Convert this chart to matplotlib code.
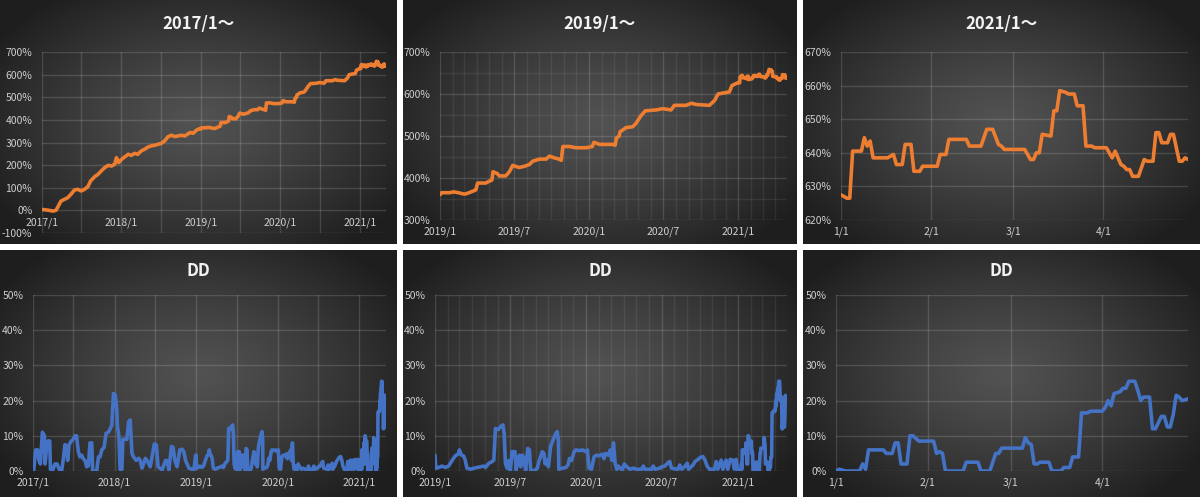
import matplotlib

matplotlib.use("Agg")

import matplotlib.pyplot as plt
import matplotlib.dates as mdates
import matplotlib.ticker as mticker
import numpy as np
import pandas as pd

plt.rcParams["font.family"] = ["Noto Sans CJK JP", "DejaVu Sans"]

ORANGE = "#ED7D31"
BLUE = "#4472C4"
TICK = "#cfcfcf"

# cumulative return (%)
ret_2017 = [
    ("2017-01-02", 4), ("2017-01-28", 1), ("2017-02-20", -3), ("2017-03-06", 0),
    ("2017-03-17", 19), ("2017-03-29", 41), ("2017-04-14", 49), ("2017-04-29", 56),
    ("2017-05-14", 71), ("2017-05-30", 90), ("2017-06-14", 93), ("2017-06-30", 86),
    ("2017-07-15", 93), ("2017-07-31", 105), ("2017-08-12", 130), ("2017-08-31", 149),
    ("2017-09-15", 159), ("2017-09-30", 174), ("2017-10-16", 189), ("2017-11-01", 199),
    ("2017-11-16", 196), ("2017-12-01", 204), ("2017-12-09", 233), ("2017-12-19", 211),
    ("2018-01-02", 226), ("2018-01-17", 237), ("2018-02-01", 248), ("2018-02-16", 243),
    ("2018-03-02", 252), ("2018-03-17", 248), ("2018-04-02", 263), ("2018-04-17", 270),
    ("2018-05-03", 280), ("2018-05-18", 285), ("2018-06-03", 288), ("2018-06-18", 292),
    ("2018-07-03", 296), ("2018-07-18", 307), ("2018-08-03", 326), ("2018-08-19", 332),
    ("2018-09-03", 326), ("2018-09-19", 329), ("2018-10-04", 332), ("2018-10-19", 329),
    ("2018-11-12", 344), ("2018-11-27", 341), ("2018-12-12", 355), ("2018-12-28", 362),
]
ret_2019 = [
    ("2019-01-01", 360), ("2019-01-05", 365), ("2019-01-25", 365), ("2019-02-03", 367),
    ("2019-02-15", 365), ("2019-02-27", 362), ("2019-03-05", 362), ("2019-03-18", 367),
    ("2019-03-26", 370), ("2019-03-30", 372), ("2019-04-03", 388), ("2019-04-23", 388),
    ("2019-05-01", 392), ("2019-05-08", 395), ("2019-05-11", 415), ("2019-05-22", 410),
    ("2019-05-26", 405), ("2019-06-11", 405), ("2019-06-20", 415), ("2019-06-28", 430),
    ("2019-07-14", 425), ("2019-07-27", 428), ("2019-08-08", 432), ("2019-08-16", 440),
    ("2019-09-02", 445), ("2019-09-18", 445), ("2019-09-26", 452), ("2019-10-08", 448),
    ("2019-10-19", 445), ("2019-10-25", 442), ("2019-10-29", 475), ("2019-11-14", 475),
    ("2019-11-30", 472), ("2019-12-25", 472), ("2020-01-09", 475), ("2020-01-13", 485),
    ("2020-01-27", 480), ("2020-02-28", 480), ("2020-03-05", 478), ("2020-03-08", 495),
    ("2020-03-15", 500), ("2020-03-17", 510), ("2020-04-01", 520), ("2020-04-17", 522),
    ("2020-04-25", 530), ("2020-05-07", 548), ("2020-05-18", 560), ("2020-06-13", 562),
    ("2020-06-30", 565), ("2020-07-20", 562), ("2020-07-28", 573), ("2020-08-26", 573),
    ("2020-09-08", 578), ("2020-09-20", 575), ("2020-10-22", 573), ("2020-11-04", 585),
    ("2020-11-12", 600), ("2020-11-28", 603), ("2020-12-10", 605), ("2020-12-16", 620),
    ("2020-12-27", 625),
]
ret_2021 = [
    ("2021-01-01", 627.5), ("2021-01-02", 627), ("2021-01-03", 626.5), ("2021-01-04", 626.5),
    ("2021-01-05", 640.5), ("2021-01-08", 640.5), ("2021-01-09", 644.5), ("2021-01-10", 642),
    ("2021-01-11", 643.5), ("2021-01-12", 638.5), ("2021-01-17", 638.5), ("2021-01-19", 639.5),
    ("2021-01-20", 636.5), ("2021-01-22", 636.5), ("2021-01-23", 642.5), ("2021-01-25", 642.5),
    ("2021-01-26", 634.5), ("2021-01-28", 634.5), ("2021-01-29", 636), ("2021-02-03", 636),
    ("2021-02-04", 639.5), ("2021-02-06", 639.5), ("2021-02-07", 644), ("2021-02-13", 644),
    ("2021-02-14", 642), ("2021-02-18", 642), ("2021-02-20", 647), ("2021-02-22", 647),
    ("2021-02-24", 642.5), ("2021-02-25", 642), ("2021-02-26", 641), ("2021-03-05", 641),
    ("2021-03-07", 638), ("2021-03-08", 638), ("2021-03-09", 640), ("2021-03-10", 640),
    ("2021-03-11", 645.5), ("2021-03-14", 645), ("2021-03-15", 652.5), ("2021-03-16", 652.5),
    ("2021-03-17", 658.5), ("2021-03-19", 658), ("2021-03-20", 657.5), ("2021-03-22", 657.5),
    ("2021-03-23", 654), ("2021-03-25", 654), ("2021-03-26", 642), ("2021-03-28", 642),
    ("2021-03-29", 641.5), ("2021-04-02", 641.5), ("2021-04-03", 640), ("2021-04-04", 638.5),
    ("2021-04-05", 640.5), ("2021-04-07", 636.5), ("2021-04-08", 636), ("2021-04-09", 635),
    ("2021-04-10", 635), ("2021-04-11", 633), ("2021-04-13", 633), ("2021-04-15", 638),
    ("2021-04-16", 637.5), ("2021-04-18", 637.5), ("2021-04-19", 646), ("2021-04-20", 646),
    ("2021-04-21", 643), ("2021-04-23", 643), ("2021-04-24", 645.5), ("2021-04-25", 645.5),
    ("2021-04-27", 637.5), ("2021-04-28", 637.5), ("2021-04-29", 638.5), ("2021-04-30", 638),
]

# drawdown (%)
dd_2017 = [
    ("2017-01-04", 0), ("2017-01-13", 6), ("2017-01-22", 6), ("2017-01-28", 3),
    ("2017-02-03", 2), ("2017-02-12", 11), ("2017-02-21", 10), ("2017-02-24", 2),
    ("2017-03-05", 8), ("2017-03-11", 8.6), ("2017-03-17", 8.5), ("2017-03-20", 0.5),
    ("2017-03-29", 0), ("2017-04-09", 2), ("2017-04-19", 2), ("2017-04-28", 0.5),
    ("2017-05-09", 0), ("2017-05-16", 3), ("2017-05-24", 7.5), ("2017-05-31", 7),
    ("2017-06-05", 3), ("2017-06-12", 7.5), ("2017-06-21", 8.5), ("2017-06-30", 9),
    ("2017-07-08", 10), ("2017-07-15", 10), ("2017-07-23", 5.5), ("2017-07-30", 4),
    ("2017-08-07", 4.5), ("2017-08-14", 3.5), ("2017-08-22", 3), ("2017-08-29", 1.2),
    ("2017-09-06", 1.5), ("2017-09-13", 8), ("2017-09-21", 8), ("2017-09-25", 0),
    ("2017-10-13", 0), ("2017-10-21", 4), ("2017-10-28", 4), ("2017-11-05", 6),
    ("2017-11-15", 6.7), ("2017-11-24", 10.7), ("2017-12-05", 11), ("2017-12-20", 13),
    ("2017-12-27", 22), ("2018-01-04", 21.6), ("2018-01-11", 17.3), ("2018-01-14", 12.6),
    ("2018-01-20", 10.2), ("2018-01-26", 0.5), ("2018-02-03", 0.5), ("2018-02-07", 9),
    ("2018-02-25", 9), ("2018-03-05", 14), ("2018-03-12", 14.5), ("2018-03-20", 5),
    ("2018-03-27", 4), ("2018-04-08", 3), ("2018-04-19", 3.6), ("2018-04-26", 3),
    ("2018-05-04", 0.8), ("2018-05-19", 3.6), ("2018-05-26", 3), ("2018-06-10", 1.2),
    ("2018-06-28", 7.7), ("2018-07-07", 7.4), ("2018-07-15", 1.2), ("2018-08-02", 0.3),
    ("2018-08-17", 3), ("2018-08-24", 3), ("2018-09-01", 0.3), ("2018-09-13", 7),
    ("2018-09-20", 6.7), ("2018-09-28", 3), ("2018-10-08", 1.2), ("2018-10-20", 6),
    ("2018-10-31", 6.2), ("2018-11-07", 5.5), ("2018-11-15", 3), ("2018-11-30", 0.8),
    ("2018-12-22", 0.3), ("2018-12-30", 4.5),
]
dd_2019 = [
    ("2019-01-01", 4.5), ("2019-01-03", 0.8), ("2019-01-10", 1), ("2019-01-18", 1.4),
    ("2019-01-26", 1), ("2019-02-03", 1.4), ("2019-02-07", 2.2), ("2019-02-13", 3.3),
    ("2019-02-19", 4.3), ("2019-02-26", 4.8), ("2019-03-01", 6), ("2019-03-06", 4.5),
    ("2019-03-11", 4.3), ("2019-03-15", 3.1), ("2019-03-19", 0.8), ("2019-03-28", 0.5),
    ("2019-04-05", 0.8), ("2019-04-13", 1), ("2019-04-21", 1.2), ("2019-04-29", 1.4),
    ("2019-05-03", 1), ("2019-05-11", 2.2), ("2019-05-19", 2.7), ("2019-05-23", 3.1),
    ("2019-05-27", 12.1), ("2019-06-03", 11.8), ("2019-06-08", 12.6), ("2019-06-14", 13.1),
    ("2019-06-17", 10.7), ("2019-06-20", 2.2), ("2019-06-24", 0.8), ("2019-06-28", 3),
    ("2019-07-02", 0), ("2019-07-06", 5.5), ("2019-07-13", 5.5), ("2019-07-16", 0.3),
    ("2019-07-21", 3.6), ("2019-07-24", 4.5), ("2019-07-27", 1.2), ("2019-07-31", 4.5),
    ("2019-08-04", 3.6), ("2019-08-08", 0.3), ("2019-08-13", 6.4), ("2019-08-17", 6),
    ("2019-08-20", 0.3), ("2019-08-28", 0), ("2019-09-05", 0.8), ("2019-09-09", 2.7),
    ("2019-09-17", 5.5), ("2019-09-21", 5), ("2019-09-24", 2), ("2019-09-27", 3.1),
    ("2019-10-02", 1.2), ("2019-10-07", 6.9), ("2019-10-13", 8.8), ("2019-10-18", 10.2),
    ("2019-10-23", 11.2), ("2019-10-26", 8.8), ("2019-10-27", 0.5), ("2019-11-04", 0.8),
    ("2019-11-13", 1), ("2019-11-18", 1.7), ("2019-11-22", 3.6), ("2019-11-27", 3),
    ("2019-12-03", 5.5), ("2019-12-07", 6), ("2019-12-15", 5.8), ("2019-12-23", 6),
    ("2019-12-31", 5.5), ("2020-01-04", 6), ("2020-01-08", 0.8), ("2020-01-14", 0.5),
    ("2020-01-20", 4), ("2020-01-26", 4.5), ("2020-02-01", 4.3), ("2020-02-09", 4.8),
    ("2020-02-13", 3.5), ("2020-02-17", 5), ("2020-02-24", 4.5), ("2020-02-28", 6),
    ("2020-03-03", 3), ("2020-03-07", 8), ("2020-03-11", 2.2), ("2020-03-15", 0.5),
    ("2020-03-19", 1.4), ("2020-03-23", 0.8), ("2020-03-28", 0.3), ("2020-04-02", 2),
    ("2020-04-08", 1.2), ("2020-04-16", 0.5), ("2020-04-24", 0.8), ("2020-05-02", 0.5),
    ("2020-05-14", 0.5), ("2020-05-18", 1.4), ("2020-05-22", 0.5), ("2020-06-07", 0.5),
    ("2020-06-11", 1.4), ("2020-06-15", 0.5), ("2020-06-27", 0.8), ("2020-07-01", 1.2),
    ("2020-07-09", 1.4), ("2020-07-17", 2.4), ("2020-07-21", 2.7), ("2020-07-25", 0.8),
    ("2020-08-10", 0.5), ("2020-08-14", 1.7), ("2020-08-19", 0.5), ("2020-08-27", 1.4),
    ("2020-09-01", 2.2), ("2020-09-04", 0.5), ("2020-09-15", 1.7), ("2020-09-20", 2.7),
    ("2020-09-27", 3.3), ("2020-10-03", 3.9), ("2020-10-09", 4.1), ("2020-10-14", 3.1),
    ("2020-10-19", 1.4), ("2020-10-25", 0.5), ("2020-11-06", 0.5), ("2020-11-10", 2.7),
    ("2020-11-14", 0.5), ("2020-11-22", 3.1), ("2020-11-26", 0.5), ("2020-12-04", 3.1),
    ("2020-12-08", 0.5), ("2020-12-14", 3.3), ("2020-12-20", 3.1), ("2020-12-24", 0.5),
    ("2020-12-28", 3.3),
]
dd_2021 = [
    ("2021-01-01", 0), ("2021-01-02", 0.5), ("2021-01-03", 0.3), ("2021-01-04", 0),
    ("2021-01-09", 0), ("2021-01-10", 2), ("2021-01-11", 0.5), ("2021-01-12", 6),
    ("2021-01-17", 6), ("2021-01-18", 5), ("2021-01-20", 5), ("2021-01-21", 8),
    ("2021-01-22", 8), ("2021-01-23", 2), ("2021-01-25", 2), ("2021-01-26", 10),
    ("2021-01-27", 10), ("2021-01-29", 8.5), ("2021-02-03", 8.5), ("2021-02-04", 5),
    ("2021-02-05", 5.5), ("2021-02-06", 5), ("2021-02-07", 0), ("2021-02-13", 0),
    ("2021-02-14", 2.5), ("2021-02-18", 2.5), ("2021-02-19", 0), ("2021-02-22", 0),
    ("2021-02-24", 5), ("2021-02-25", 5), ("2021-02-26", 6.5), ("2021-03-05", 6.5),
    ("2021-03-06", 9.5), ("2021-03-07", 8), ("2021-03-08", 7.5), ("2021-03-09", 2),
    ("2021-03-10", 2), ("2021-03-11", 2.5), ("2021-03-14", 2.5), ("2021-03-15", 0),
    ("2021-03-18", 0), ("2021-03-19", 1), ("2021-03-21", 1), ("2021-03-22", 4),
    ("2021-03-24", 4), ("2021-03-25", 16.5), ("2021-03-27", 16.5), ("2021-03-28", 17),
    ("2021-04-01", 17), ("2021-04-02", 18), ("2021-04-03", 20), ("2021-04-04", 18.5),
    ("2021-04-05", 22), ("2021-04-07", 22.5), ("2021-04-08", 23.5), ("2021-04-09", 23.5),
    ("2021-04-10", 25.5), ("2021-04-12", 25.5), ("2021-04-13", 23), ("2021-04-14", 20),
    ("2021-04-15", 21), ("2021-04-17", 21), ("2021-04-18", 12), ("2021-04-19", 12),
    ("2021-04-21", 15.5), ("2021-04-22", 15.5), ("2021-04-23", 12.5), ("2021-04-24", 12.5),
    ("2021-04-25", 16), ("2021-04-26", 21.5), ("2021-04-27", 21), ("2021-04-28", 20),
    ("2021-04-30", 20.5),
]

TITLES = ["2017/1～", "2019/1～", "2021/1～"]
DD_TITLE = "DD"
STARTS = ["2017-01-01", "2019-01-01", "2021-01-01"]
END = "2021-04-30"


def to_series(*parts):
    rows = [row for part in parts for row in part]
    index = pd.to_datetime([d for d, _ in rows])
    return pd.Series([v for _, v in rows], index=index)


ret = to_series(ret_2017, ret_2019, ret_2021)
dd = to_series(dd_2017, dd_2019, dd_2021)

W, H = 1200, 497
fig = plt.figure(figsize=(W / 100, H / 100), dpi=100, facecolor="white")


def rect(x0, y0, x1, y1):
    return [x0 / W, 1 - y1 / H, (x1 - x0) / W, (y1 - y0) / H]


PANELS = [
    (0, 0, 397, 244), (403, 0, 797, 244), (803, 0, 1200, 244),
    (0, 250, 397, 497), (403, 250, 797, 497), (803, 250, 1200, 497),
]
PLOTS = [
    (42, 52, 386, 233), (440, 52, 787, 220), (841, 52, 1188, 220),
    (33, 295, 386, 471), (435, 295, 787, 471), (836, 295, 1188, 471),
]

gy, gx = np.mgrid[0:1:200j, 0:1:300j]
r = np.sqrt(((gx - 0.5) / 0.6) ** 2 + ((gy - 0.5) / 0.65) ** 2)
shade = (82 - 52 * np.clip(r, 0, 1) ** 1.2) / 255.0
background = np.dstack([shade, shade, shade])


def year_month(x, pos=None):
    d = mdates.num2date(x)
    return "{}/{}".format(d.year, d.month)


def month_day(x, pos=None):
    d = mdates.num2date(x)
    return "{}/{}".format(d.month, d.day)


def percent(x, pos=None):
    return "{:.0f}%".format(x)


for i in range(6):
    bg = fig.add_axes(rect(*PANELS[i]))
    bg.imshow(background, aspect="auto", extent=[0, 1, 0, 1], interpolation="bilinear")
    bg.axis("off")

    col = i % 3
    top = i < 3
    ax = fig.add_axes(rect(*PLOTS[i]))
    ax.set_facecolor("none")
    for spine in ax.spines.values():
        spine.set_visible(False)

    series = ret if top else dd
    part = series[series.index >= pd.Timestamp(STARTS[col])]
    ax.plot(part.index, part.values, color=ORANGE if top else BLUE, lw=2.6,
            solid_joinstyle="round", solid_capstyle="round", zorder=3)
    ax.set_xlim(pd.Timestamp(STARTS[col]), pd.Timestamp(END))

    if col == 0:
        ax.xaxis.set_major_locator(mdates.YearLocator())
        ax.xaxis.set_minor_locator(mdates.MonthLocator(bymonth=[7]))
        ax.xaxis.set_major_formatter(mticker.FuncFormatter(year_month))
    elif col == 1:
        ax.xaxis.set_major_locator(mdates.MonthLocator(bymonth=[1, 7]))
        ax.xaxis.set_minor_locator(mdates.MonthLocator())
        ax.xaxis.set_major_formatter(mticker.FuncFormatter(year_month))
    else:
        ax.xaxis.set_major_locator(mdates.MonthLocator())
        ax.xaxis.set_major_formatter(mticker.FuncFormatter(month_day))

    if top:
        if col == 0:
            ax.set_ylim(-100, 700)
            ax.yaxis.set_major_locator(mticker.MultipleLocator(100))
            ax.spines["bottom"].set_position(("data", 0))
        elif col == 1:
            ax.set_ylim(300, 700)
            ax.yaxis.set_major_locator(mticker.MultipleLocator(100))
            ax.yaxis.set_minor_locator(mticker.MultipleLocator(50))
        else:
            ax.set_ylim(620, 670)
            ax.yaxis.set_major_locator(mticker.MultipleLocator(10))
    else:
        ax.set_ylim(0, 50)
        ax.yaxis.set_major_locator(mticker.MultipleLocator(10))
    ax.yaxis.set_major_formatter(mticker.FuncFormatter(percent))

    ax.set_axisbelow(True)
    ax.grid(True, which="major", color="white", alpha=0.14, lw=1.0)
    minor_alpha = 0.14 if col == 0 else 0.07
    ax.grid(True, which="minor", color="white", alpha=minor_alpha, lw=1.0)
    ax.tick_params(which="both", length=0, colors=TICK, labelsize=7.5)
    ax.tick_params(axis="x", pad=5)
    ax.tick_params(axis="y", pad=7)

    cx = (PANELS[i][0] + PANELS[i][2]) / 2
    cy = 24 if top else 271
    fig.text(cx / W, 1 - cy / H, TITLES[col] if top else DD_TITLE,
             ha="center", va="center", fontsize=12, fontweight="bold", color="#f2f2f2")

fig.savefig("out.png", dpi=100, facecolor="white")
